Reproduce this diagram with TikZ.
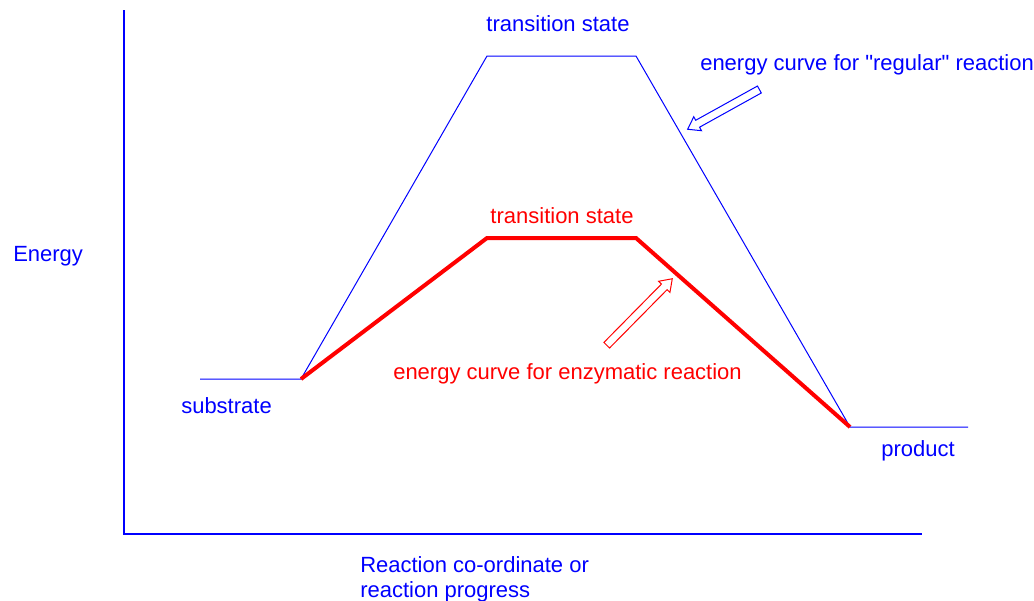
\documentclass[tikz,border=0pt]{standalone}
\usepackage{fontspec}
\setmainfont{Liberation Sans}
\usetikzlibrary{shapes.arrows}
\definecolor{plainblue}{RGB}{0,0,255}
\definecolor{plainred}{RGB}{255,0,0}

\begin{document}
\begin{tikzpicture}[
  x=0.75pt, y=-0.75pt,
  label/.style={font=\fontsize{16.5}{18.75}\selectfont, inner sep=0pt},
  axis/.style={draw=plainblue, line width=1pt},
  regular/.style={draw=plainblue, line width=0.75pt},
  enzyme/.style={draw=plainred, line width=3pt, line join=miter},
  pointer/.style={single arrow, draw, fill=white, line width=0.75pt, inner sep=2.6pt,
                  single arrow head extend=3pt, single arrow tip angle=70},
]
  \useasboundingbox (0,0) rectangle (1034,600);
  % axes
  \coordinate (top) at (124,10);
  \coordinate (origin) at (124,534);
  \coordinate (right) at (922,534);
  \draw[axis] (top) -- (origin) -- (right);
  % energy levels
  \coordinate (S0) at (200,379);
  \coordinate (S1) at (301,379);
  \coordinate (T1) at (487,56);
  \coordinate (T2) at (636,56);
  \coordinate (E1) at (487,238);
  \coordinate (E2) at (636,238);
  \coordinate (P0) at (850,427);
  \coordinate (P1) at (968,427);
  \draw[regular] (S0) -- (S1) -- (T1) -- (T2) -- (P0) -- (P1);
  \draw[enzyme] (S1) -- (E1) -- (E2) -- (P0);
  % labels
  \node[label, text=plainblue] (ts) at (558,24) {transition state};
  \node[label, text=plainred] (tse) at (562,216) {transition state};
  \node[label, text=plainblue, anchor=west] (energy) at (13,256) {Energy};
  \node[label, text=plainblue, anchor=west] (reg) at (700,65)
    {energy curve for \textquotedbl regular\textquotedbl{} reaction};
  \node[label, text=plainred, anchor=west] (enz) at (393,374) {energy curve for enzymatic reaction};
  \node[label, text=plainblue, anchor=west] (sub) at (181,406) {substrate};
  \node[label, text=plainblue, anchor=west] (prod) at (881,451) {product};
  \node[label, text=plainblue, anchor=north west, align=left] (xlab) at (360,556)
    {Reaction co-ordinate or\\reaction progress};
  % pointers
  \node[pointer, draw=plainblue, minimum height=61.5pt, rotate=209] (pblue) at (726,108) {};
  \node[pointer, draw=plainred, minimum height=70pt, rotate=45.4] (pred) at (637.5,314) {};
\end{tikzpicture}
\end{document}
